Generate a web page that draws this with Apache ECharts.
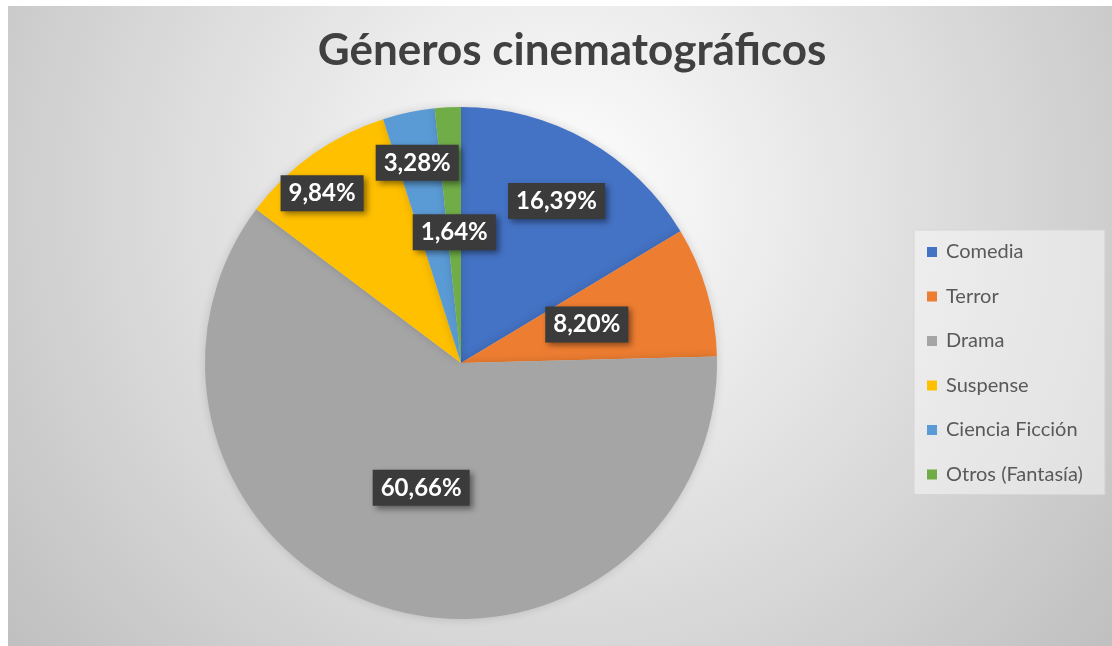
<!DOCTYPE html>
<html>
<head>
<meta charset="utf-8">
<script src="https://cdn.jsdelivr.net/npm/echarts@6/dist/echarts.min.js"></script>
<style>
  html, body { margin: 0; padding: 0; background: #fff; }
  #chart { position: absolute; left: 8px; top: 6px; width: 1104px; height: 640px; }
</style>
</head>
<body>
<div id="chart"></div>
<script>
const categories = ['Comedia', 'Terror', 'Drama', 'Suspense', 'Ciencia Ficción', 'Otros (Fantasía)']
const counts = [10, 5, 37, 6, 2, 1]
const colors = ['#4472C4', '#ED7D31', '#A5A5A5', '#FFC000', '#5B9BD5', '#70AD47']
// nudges for labels that Excel placed further out than the slice midpoint
const labelShift = [[31, -48], [0, -2], [0, 0], [-63, -63], [-17, -72], [0, 0]]

const total = counts.reduce((a, b) => a + b, 0)
const myChart = echarts.init(document.getElementById('chart'))

myChart.setOption({
  animation: false,
  backgroundColor: {
    type: 'radial',
    x: 0.5,
    y: 0.3,
    r: 1.1,
    colorStops: [
      { offset: 0, color: '#ffffff' },
      { offset: 1, color: '#c0c0c0' },
    ],
  },
  textStyle: {
    fontFamily: 'Lato',
  },
  title: {
    text: 'Géneros cinematográficos',
    left: 559,
    top: 18,
    textAlign: 'center',
    textStyle: {
      fontFamily: 'Lato',
      fontSize: 44,
      fontWeight: 'bold',
      color: '#404040',
    },
  },
  legend: {
    orient: 'vertical',
    left: 906,
    top: 224,
    padding: [12, 22, 10, 13],
    backgroundColor: 'rgba(255,255,255,0.45)',
    borderColor: '#d6d6d6',
    borderWidth: 1,
    borderRadius: 0,
    itemWidth: 10,
    itemHeight: 10,
    itemGap: 24.5,
    icon: 'rect',
    textStyle: {
      fontFamily: 'Lato',
      fontSize: 20,
      lineHeight: 20,
      color: '#595959',
      padding: [0, 0, 0, 4],
    },
    data: categories,
  },
  series: [
    {
      type: 'pie',
      center: [453, 357],
      radius: [0, 256],
      startAngle: 90,
      clockwise: true,
      label: {
        show: true,
        position: 'inside',
        formatter: (p) => (p.value / total * 100).toFixed(2).replace('.', ',') + '%',
        fontFamily: 'Lato',
        fontSize: 24,
        fontWeight: 'bold',
        color: '#ffffff',
        backgroundColor: '#3b3b3b',
        padding: [7, 8, 5, 8],
        shadowColor: 'rgba(0,0,0,0.45)',
        shadowBlur: 6,
        shadowOffsetX: 3,
        shadowOffsetY: 3,
      },
      labelLine: { show: false },
      labelLayout: (params) => ({
        dx: labelShift[params.dataIndex][0],
        dy: labelShift[params.dataIndex][1],
      }),
      itemStyle: {
        shadowColor: 'rgba(0,0,0,0.15)',
        shadowBlur: 10,
      },
      emphasis: { disabled: true },
      data: categories.map((name, i) => ({
        name,
        value: counts[i],
        itemStyle: { color: colors[i] },
      })),
    },
  ],
})
</script>
</body>
</html>
